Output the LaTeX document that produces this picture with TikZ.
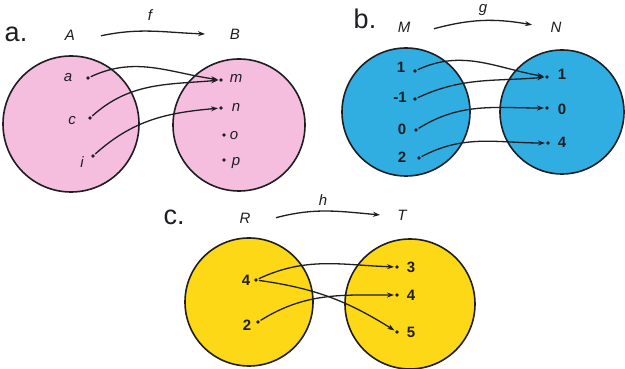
\documentclass[tikz,border=0pt]{standalone}
\usepackage{fontspec}
\setmainfont{Liberation Sans}
\usetikzlibrary{arrows.meta}
\definecolor{pinkset}{RGB}{246,190,222}
\definecolor{blueset}{RGB}{48,174,226}
\definecolor{yellowset}{RGB}{252,216,22}
\definecolor{inkc}{RGB}{30,30,35}
\tikzset{
  setc/.style={draw=inkc,line width=1.6pt},
  pt/.style={circle,fill=inkc,inner sep=0pt,minimum size=3.6pt},
  lab/.style={inner sep=0pt,text=inkc,font=\fontsize{15}{15}\selectfont\itshape},
  num/.style={inner sep=0pt,text=inkc,font=\fontsize{15}{15}\selectfont\bfseries},
  part/.style={inner sep=0pt,text=inkc,font=\fontsize{27}{27}\selectfont},
  mapar/.style={draw=inkc,line width=1.3pt,-{Stealth[length=7pt,width=5pt]},shorten <=1pt,shorten >=1pt},
}
\begin{document}
\begin{tikzpicture}[x=1pt,y=1pt]
\useasboundingbox (0,0) rectangle (625,369);
\fill[white] (0,0) rectangle (625,369);
% ---------- a ----------
\node[setc,fill=pinkset,circle,minimum size=136pt] (cA) at (71,245) {};
\node[setc,fill=pinkset,circle,minimum size=132pt] (cB) at (239,244) {};
\node[part] (pa) at (16,335) {a.};
\node[lab] (A) at (70,334) {A};
\node[lab] (B) at (235,335) {B};
\coordinate (fs) at (100,333);
\coordinate (fe) at (206,335);
\draw[mapar] (fs) to[out=12,in=178] (fe);
\node[lab] (f) at (150,354) {f};
\node[lab] (la) at (68,291) {a};
\node[pt] (da) at (88,291) {};
\node[lab] (lc) at (72,248) {c};
\node[pt] (dc) at (90,251) {};
\node[lab] (li) at (82,207) {i};
\node[pt] (di) at (93,213) {};
\node[pt] (dm) at (221,289) {};
\node[lab] (lm) at (236,291) {m};
\node[pt] (dn) at (221,261) {};
\node[lab] (ln) at (236,262) {n};
\node[pt] (do) at (224,234) {};
\node[lab] (lo) at (234,233) {o};
\node[pt] (dp) at (224,209) {};
\node[lab] (lp) at (236,206) {p};
\draw[mapar] (da) to[out=25,in=172] (dm);
\draw[mapar] (dc) to[out=42,in=185] (dm);
\draw[mapar] (di) to[out=42,in=185] (dn);
% ---------- b ----------
\node[setc,fill=blueset,circle,minimum size=128pt] (cM) at (406,257) {};
\node[setc,fill=blueset,circle,minimum size=124pt] (cN) at (562,257) {};
\node[part] (pb) at (365,350) {b.};
\node[lab] (M) at (404,342) {M};
\node[lab] (N) at (556,342) {N};
\coordinate (gs) at (433,340);
\coordinate (ge) at (533,344);
\draw[mapar] (gs) to[out=15,in=170] (ge);
\node[lab] (g) at (483,359) {g};
\node[num] (l1) at (401,302) {1};
\node[pt] (d1) at (415,298) {};
\node[num] (lm1) at (400,272) {-1};
\node[pt] (dm1) at (415,270) {};
\node[num] (l0) at (402,240) {0};
\node[pt] (d0) at (416,239) {};
\node[num] (l2) at (402,212) {2};
\node[pt] (d2) at (419,211) {};
\node[pt] (e1) at (547,292) {};
\node[num] (r1) at (562,295) {1};
\node[pt] (e0) at (547,261) {};
\node[num] (r0) at (562,260) {0};
\node[pt] (e4) at (548,226) {};
\node[num] (r4) at (562,227) {4};
\draw[mapar] (d1) to[out=25,in=170] (e1);
\draw[mapar] (dm1) to[out=25,in=185] (e1);
\draw[mapar] (d0) to[out=32,in=180] (e0);
\draw[mapar] (d2) to[out=28,in=180] (e4);
% ---------- c ----------
\node[setc,fill=yellowset,circle,minimum size=128pt] (cR) at (249,67) {};
\node[setc,fill=yellowset,circle,minimum size=130pt] (cT) at (410,65) {};
\node[part] (pc) at (174,152) {c.};
\node[lab] (R) at (245,151) {R};
\node[lab] (T) at (402,154) {T};
\coordinate (hs) at (275,151);
\coordinate (he) at (381,154);
\draw[mapar] (hs) to[out=15,in=175] (he);
\node[lab] (h) at (323,169) {h};
\node[num] (l4) at (246,89) {4};
\node[pt] (d4) at (256,89) {};
\node[num] (l2c) at (247,44) {2};
\node[pt] (d2c) at (258,47) {};
\node[pt] (t3) at (397,102) {};
\node[num] (r3) at (411,102) {3};
\node[pt] (t4) at (397,74) {};
\node[num] (r4c) at (411,74) {4};
\node[pt] (t5) at (397,37) {};
\node[num] (r5) at (411,37) {5};
\draw[mapar] (d4) to[out=25,in=178] (t3);
\draw[mapar] (d4) to[out=-8,in=148] (t5);
\draw[mapar] (d2c) to[out=32,in=180] (t4);
\end{tikzpicture}
\end{document}
